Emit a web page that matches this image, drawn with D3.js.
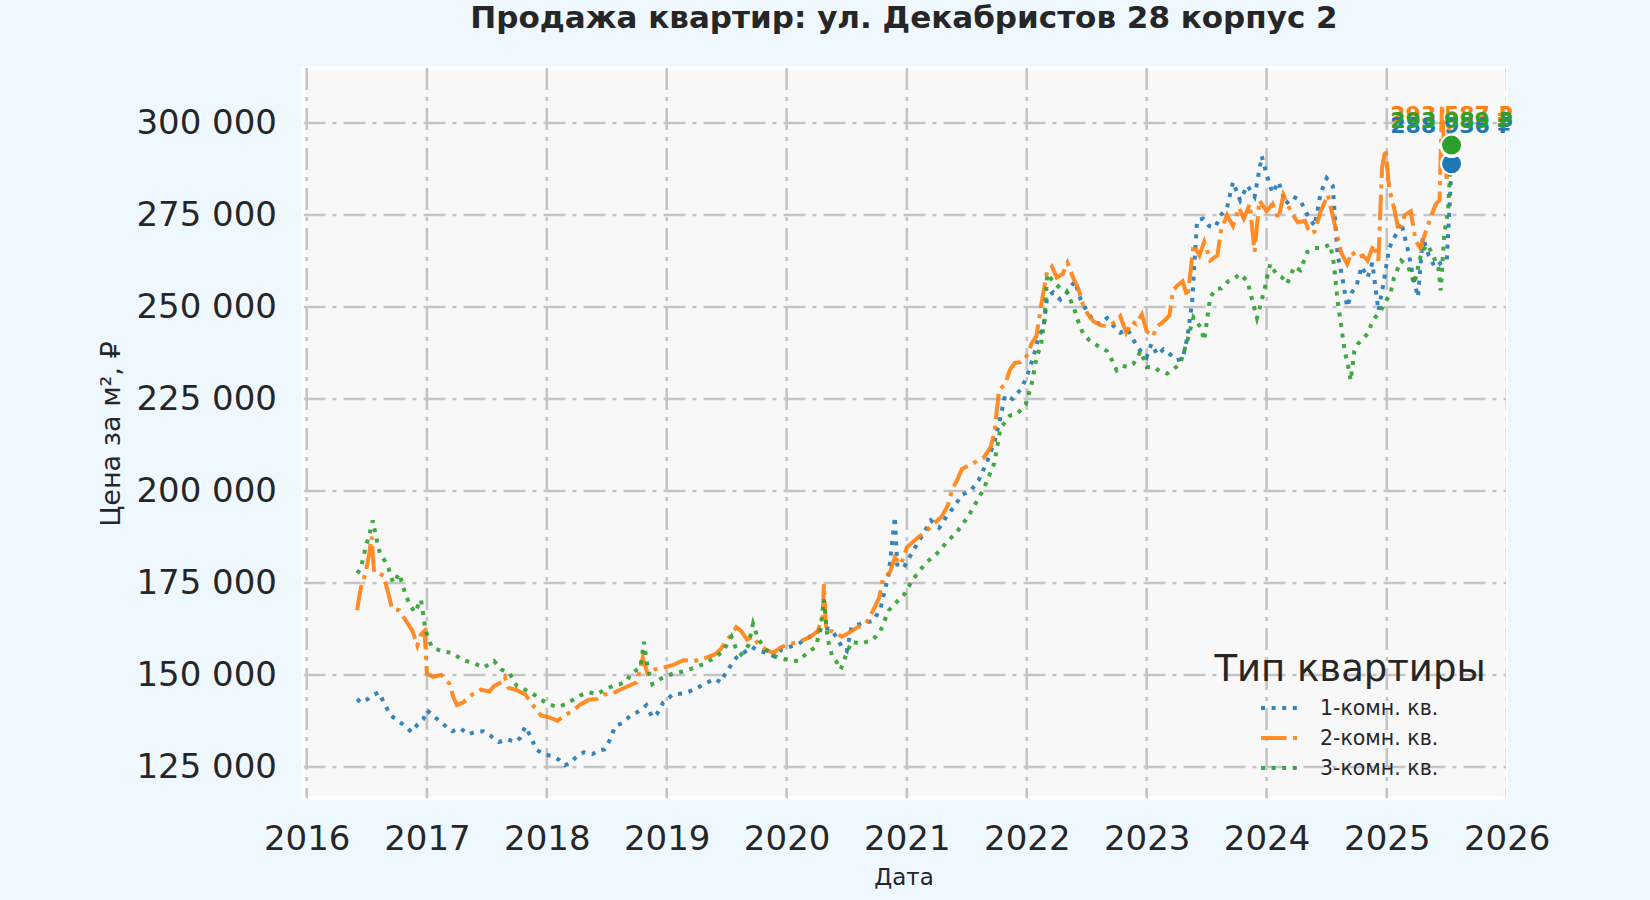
<!DOCTYPE html>
<html>
<head>
<meta charset="utf-8">
<script src="https://cdn.jsdelivr.net/npm/d3@7"></script>
<style>
  html, body { margin: 0; padding: 0; background: #f0f8ff; }
  svg { display: block; font-family: "DejaVu Sans", sans-serif; }
</style>
</head>
<body>
<svg id="chart" width="1650" height="900"></svg>
<script>
// series names / colours
var seriesNames = ["1-комн. кв.", "2-комн. кв.", "3-комн. кв."];
var seriesColors = ["#1f77b4", "#ff7f0e", "#2ca02c"];

// time in decimal years, values in thousand rubles per m2
var t1 = [2016.42,2016.45,2016.5,2016.55,2016.6,2016.65,2016.7,2016.76,2016.82,2016.87,2016.92,2016.97,2017.0,2017.05,2017.1,2017.16,2017.21,2017.28,2017.34,2017.4,2017.47,2017.53,2017.6,2017.67,2017.74,2017.78,2017.82,2017.87,2017.91,2017.97,2018.04,2018.1,2018.15,2018.2,2018.25,2018.31,2018.38,2018.43,2018.48,2018.52,2018.57,2018.63,2018.7,2018.76,2018.83,2018.88,2018.92,2018.97,2019.05,2019.14,2019.23,2019.31,2019.4,2019.45,2019.5,2019.58,2019.64,2019.71,2019.77,2019.84,2019.9,2019.96,2020.02,2020.1,2020.19,2020.25,2020.3,2020.37,2020.42,2020.46,2020.5,2020.54,2020.62,2020.72,2020.78,2020.85,2020.9,2020.92,2020.97,2021.07,2021.13,2021.2,2021.27,2021.33,2021.4,2021.46,2021.53,2021.6,2021.67,2021.73,2021.78,2021.82,2021.88,2021.95,2022.0,2022.06,2022.1,2022.14,2022.17,2022.22,2022.28,2022.34,2022.4,2022.45,2022.5,2022.56,2022.61,2022.67,2022.72,2022.78,2022.84,2022.89,2022.95,2023.0,2023.04,2023.09,2023.14,2023.2,2023.25,2023.3,2023.34,2023.38,2023.42,2023.47,2023.52,2023.57,2023.62,2023.67,2023.72,2023.78,2023.84,2023.9,2023.96,2024.0,2024.05,2024.1,2024.16,2024.22,2024.28,2024.34,2024.4,2024.45,2024.5,2024.55,2024.59,2024.63,2024.67,2024.71,2024.75,2024.79,2024.84,2024.88,2024.93,2024.97,2025.02,2025.08,2025.12,2025.18,2025.22,2025.26,2025.3,2025.35,2025.4,2025.45,2025.5,2025.52,2025.54];
var v1 = [143.5,142.5,143.3,144.5,145.3,142,139,137.5,136.1,134.5,136.5,138,140.4,139,137.6,136,134.7,135.5,133.9,134.5,134.7,133.5,131.8,132.5,131.8,133,136,133,129.8,128.5,128,127,125.5,126.1,128,129,128.5,129.5,129.8,132,136,137,139,140,141.8,138.5,139.5,142.5,144.7,145,146,147.5,149,148,151,154.7,156,157.6,156.5,156,155,157,157.6,158.5,160.4,161.5,163,162.4,160,157.6,156.5,163,164,164.7,168,177.6,193,180,179,184.7,188,192,190,193,196,199,200,203,208,213.3,220,226,225,227.6,231,237,242,244.5,252.7,254,252,254,257,252,249,246,245.4,247,245,243,244,241,238,236.4,240,237,238.5,237,235.5,236,241.8,251.8,273.5,274,272,271.6,275,277,284,279,283,280,291,286,281,284,278,280,279,275,272,281,285,283,264.4,258,250,254,256,261,258,262,249,256,266,270,273,265,258,252.7,269,264,260.8,262,262.6,275,288.936];

var t2 = [2016.42,2016.44,2016.46,2016.49,2016.52,2016.54,2016.56,2016.6,2016.64,2016.68,2016.71,2016.77,2016.82,2016.88,2016.92,2016.95,2016.98,2017.0,2017.05,2017.12,2017.19,2017.22,2017.25,2017.3,2017.38,2017.45,2017.52,2017.56,2017.62,2017.65,2017.68,2017.74,2017.82,2017.88,2017.95,2018.02,2018.09,2018.15,2018.22,2018.28,2018.35,2018.42,2018.48,2018.55,2018.61,2018.68,2018.75,2018.8,2018.84,2018.9,2018.97,2019.05,2019.14,2019.23,2019.31,2019.4,2019.45,2019.49,2019.54,2019.58,2019.62,2019.67,2019.72,2019.75,2019.82,2019.89,2019.95,2020.02,2020.1,2020.2,2020.26,2020.3,2020.31,2020.33,2020.38,2020.46,2020.52,2020.59,2020.66,2020.72,2020.77,2020.8,2020.86,2020.9,2020.95,2021.0,2021.08,2021.16,2021.22,2021.29,2021.34,2021.38,2021.42,2021.46,2021.52,2021.58,2021.64,2021.7,2021.73,2021.77,2021.82,2021.86,2021.9,2021.95,2021.99,2022.04,2022.08,2022.12,2022.15,2022.17,2022.21,2022.25,2022.3,2022.34,2022.39,2022.43,2022.47,2022.51,2022.56,2022.62,2022.68,2022.74,2022.78,2022.83,2022.88,2022.91,2022.96,2023.0,2023.05,2023.09,2023.14,2023.19,2023.22,2023.26,2023.3,2023.34,2023.37,2023.39,2023.44,2023.48,2023.53,2023.59,2023.62,2023.67,2023.72,2023.77,2023.81,2023.86,2023.9,2023.94,2024.0,2024.05,2024.1,2024.14,2024.2,2024.26,2024.32,2024.36,2024.4,2024.45,2024.51,2024.56,2024.59,2024.62,2024.67,2024.71,2024.75,2024.8,2024.84,2024.89,2024.93,2024.96,2024.99,2025.02,2025.06,2025.1,2025.15,2025.2,2025.24,2025.28,2025.32,2025.37,2025.41,2025.44,2025.46,2025.48,2025.5,2025.52,2025.54];
var v2 = [167.6,172,175,177.6,183,187.6,178,177.6,177,172,168,167.6,165,162,158,161,162,150.4,149.5,150,147.5,144,141.8,142.5,144.7,146,145.5,147,148,149.5,146.5,146,144.7,142,139,138.5,137.6,139,140.4,142,143.3,143.5,144.7,145,146,147,148,154.7,150.4,151.5,152,152.7,154,153.8,154.5,155.6,157,159,161,163,162,159.6,160.5,159,157,156,157.5,158.4,159,160.4,162,166,174.7,162,161.9,160.4,161.5,163,164,167.6,171,176,178,182,180,184.7,187,189,191,193,196,200.5,203,206,207,208,209,212,216,227.6,229,233,234.8,235,236,240,242,250.5,256,259.7,261,258,259,262,257.7,255,250.5,248,246,245,244.8,246,247.5,243,246,245.4,248,243.4,242,244.8,246,247.7,254.5,256,257,252.7,260.8,267,264,267.7,262.6,264,270.7,275,272,277,274,278,265,279,276,278,274,280.5,276,273,273.4,270,270.5,276,280.5,273.4,269,264.8,261.7,265,263.4,264,262.6,267,262.6,287.7,293,282,277,270.5,275,276,268,266,270,274.8,278,279,304.9,292,284.8,299,293.587];

var t3 = [2016.42,2016.45,2016.49,2016.52,2016.55,2016.58,2016.61,2016.65,2016.68,2016.72,2016.77,2016.82,2016.86,2016.9,2016.95,2016.99,2017.04,2017.12,2017.21,2017.3,2017.39,2017.47,2017.56,2017.62,2017.69,2017.75,2017.82,2017.88,2017.95,2018.02,2018.09,2018.15,2018.22,2018.28,2018.35,2018.42,2018.48,2018.55,2018.61,2018.67,2018.7,2018.78,2018.81,2018.84,2018.88,2018.95,2019.05,2019.14,2019.23,2019.31,2019.4,2019.47,2019.54,2019.58,2019.62,2019.68,2019.72,2019.76,2019.82,2019.88,2019.93,2020.02,2020.1,2020.17,2020.24,2020.28,2020.31,2020.34,2020.38,2020.42,2020.45,2020.5,2020.54,2020.62,2020.72,2020.78,2020.85,2020.92,2020.98,2021.05,2021.16,2021.25,2021.33,2021.42,2021.51,2021.58,2021.64,2021.73,2021.78,2021.86,2021.92,2021.99,2022.04,2022.08,2022.12,2022.15,2022.17,2022.22,2022.28,2022.33,2022.39,2022.43,2022.47,2022.52,2022.56,2022.62,2022.67,2022.72,2022.75,2022.8,2022.84,2022.89,2022.95,2023.0,2023.06,2023.11,2023.17,2023.22,2023.28,2023.34,2023.39,2023.45,2023.48,2023.53,2023.58,2023.62,2023.68,2023.74,2023.78,2023.84,2023.88,2023.92,2023.98,2024.03,2024.08,2024.13,2024.17,2024.23,2024.28,2024.34,2024.4,2024.46,2024.53,2024.56,2024.59,2024.62,2024.65,2024.68,2024.7,2024.73,2024.76,2024.79,2024.84,2024.88,2024.9,2024.95,2025.0,2025.03,2025.06,2025.12,2025.18,2025.23,2025.29,2025.34,2025.37,2025.43,2025.45,2025.48,2025.51,2025.54];
var v3 = [177.6,179,184.7,188,192,187,183,181,179,175,177.6,172,169,167,170.5,162,157.6,156.5,156,154,153.3,152,153.8,151.5,150.4,147,146,145,143.3,142,141.3,142,143.3,144.5,145.3,144.8,146,147,147.5,148.5,150.4,152,159,152,147.5,149,150.4,151,152,153,154.7,156.5,160.4,157,155.6,158,163.9,160,157,155.5,154.7,154,153.8,156,157.6,162,170.5,160,155,153.3,151.5,156,159,158.5,159.6,162,167.6,170,172,176,180.5,183,186,189,193,197,200.5,207.6,217,220.5,221,223.4,229,236,240,247,259,257,255,254.5,250,246,242.7,241,240,239,238,235,232.8,234,233.7,234.6,238,233.7,233.7,232.5,231.9,233,234.6,240.9,247.2,244.5,240.9,252.7,255,255,257,258,259,257,252,247,254.5,261.7,259,258,256.3,261,260,265,266,266,267,261.7,251.8,245,238,233.7,230,238,240,241,242.7,246,247,249,252,253.6,258,262.6,260.8,256.3,265,267,265,260.8,254.5,270,276,293.989];

var yTicks = [125000, 150000, 175000, 200000, 225000, 250000, 275000, 300000];
var xTickYears = [2016, 2017, 2018, 2019, 2020, 2021, 2022, 2023, 2024, 2025, 2026];

var titleText = "Продажа квартир: ул. Декабристов 28 корпус 2";
var xLabel = "Дата";
var yLabel = "Цена за м², ₽";
var legendTitle = "Тип квартиры";

function yearToDate(y) {
  var yr = Math.floor(y);
  var a = new Date(yr, 0, 1), b = new Date(yr + 1, 0, 1);
  return new Date(+a + (y - yr) * (b - a));
}

var series = [
  {name: seriesNames[0], color: seriesColors[0], dash: "4,6.6", t: t1, v: v1},
  {name: seriesNames[1], color: seriesColors[1], dash: "25.6,6.4,4,6.4", t: t2, v: v2},
  {name: seriesNames[2], color: seriesColors[2], dash: "4,6.6", t: t3, v: v3}
];
series.forEach(function(s) {
  s.points = s.t.map(function(t, i) { return {date: yearToDate(t), value: s.v[i] * 1000}; });
});

var svg = d3.select("#chart");
var box = {left: 303.5, right: 1506, top: 68, bottom: 798};

var x = d3.scaleTime()
  .domain([new Date(2016, 0, 1), new Date(2026, 0, 1)])
  .range([306.7, 1506.7]);
var y = d3.scaleLinear()
  .domain([125000, 300000])
  .range([767, 123]);

var ru = d3.formatLocale({decimal: ",", thousands: " ", grouping: [3], currency: ["", " ₽"]});
var fmt = ru.format(",.0f");

svg.append("defs").append("clipPath").attr("id", "clip")
  .append("rect")
  .attr("x", box.left).attr("y", box.top)
  .attr("width", box.right - box.left).attr("height", box.bottom - box.top);

// plot background
svg.append("rect")
  .attr("x", box.left).attr("y", box.top)
  .attr("width", box.right - box.left).attr("height", box.bottom - box.top)
  .attr("fill", "#f8f8f8")
  .attr("stroke", "#ffffff")
  .attr("stroke-width", 4);

// grid
var grid = svg.append("g").attr("clip-path", "url(#clip)");
grid.selectAll("line.gx")
  .data(xTickYears)
  .enter().append("line")
  .attr("class", "gx")
  .attr("x1", function(d) { return x(new Date(d, 0, 1)); })
  .attr("x2", function(d) { return x(new Date(d, 0, 1)); })
  .attr("y1", box.top).attr("y2", box.bottom);
grid.selectAll("line.gy")
  .data(yTicks)
  .enter().append("line")
  .attr("class", "gy")
  .attr("x1", box.left).attr("x2", box.right)
  .attr("y1", function(d) { return y(d); })
  .attr("y2", function(d) { return y(d); });
grid.selectAll("line")
  .attr("stroke", "#c4c4c4")
  .attr("stroke-width", 2.6)
  .attr("stroke-dasharray", "22,7,4,7");

// axes (labels only)
var xAxis = d3.axisBottom(x)
  .tickValues(xTickYears.map(function(d) { return new Date(d, 0, 1); }))
  .tickFormat(d3.timeFormat("%Y"))
  .tickSize(0).tickPadding(0);
var gx = svg.append("g").attr("transform", "translate(0," + 826 + ")").call(xAxis);
gx.select(".domain").remove();
gx.selectAll("text").attr("font-size", 34).attr("fill", "#262626")
  .attr("font-family", "DejaVu Sans").attr("dy", "0.71em");

var yAxis = d3.axisLeft(y).tickValues(yTicks).tickFormat(fmt).tickSize(0).tickPadding(0);
var gy = svg.append("g").attr("transform", "translate(" + 277 + ",0)").call(yAxis);
gy.select(".domain").remove();
gy.selectAll("text").attr("font-size", 34).attr("fill", "#262626")
  .attr("font-family", "DejaVu Sans");

// lines
var line = d3.line()
  .x(function(d) { return x(d.date); })
  .y(function(d) { return y(d.value); });

var plot = svg.append("g").attr("clip-path", "url(#clip)");
plot.selectAll("path.series")
  .data(series)
  .enter().append("path")
  .attr("class", "series")
  .attr("d", function(s) { return line(s.points); })
  .attr("fill", "none")
  .attr("stroke", function(s) { return s.color; })
  .attr("stroke-opacity", 0.9)
  .attr("stroke-width", 4)
  .attr("stroke-dasharray", function(s) { return s.dash; });

// last-value markers
svg.selectAll("circle.last")
  .data(series)
  .enter().append("circle")
  .attr("class", "last")
  .attr("cx", function(s) { return x(s.points[s.points.length - 1].date); })
  .attr("cy", function(s) { return y(s.points[s.points.length - 1].value); })
  .attr("r", 10.5)
  .attr("fill", function(s) { return s.color; })
  .attr("stroke", "#ffffff")
  .attr("stroke-width", 2);

// last-value labels: orange first, then blue, then green on top
var labelShift = [10, -1, 5];
[1, 0, 2].forEach(function(i) {
  var s = series[i];
  var last = s.points[s.points.length - 1];
  svg.append("text")
    .attr("x", x(last.date))
    .attr("y", y(300000) + labelShift[i])
    .attr("text-anchor", "middle")
    .attr("font-size", 22)
    .attr("font-weight", "bold")
    .attr("fill", s.color)
    .text(fmt(last.value) + " ₽");
});

// title and axis labels
svg.append("text")
  .attr("x", 904).attr("y", 28)
  .attr("text-anchor", "middle")
  .attr("font-size", 31).attr("font-weight", "bold").attr("fill", "#262626")
  .text(titleText);

svg.append("text")
  .attr("x", 904).attr("y", 885)
  .attr("text-anchor", "middle")
  .attr("font-size", 23).attr("fill", "#262626")
  .text(xLabel);

svg.append("text")
  .attr("transform", "translate(120,434) rotate(-90)")
  .attr("text-anchor", "middle")
  .attr("font-size", 27).attr("fill", "#262626")
  .text(yLabel);

// legend
var legend = svg.append("g");
legend.append("text")
  .attr("x", 1350).attr("y", 681)
  .attr("text-anchor", "middle")
  .attr("font-size", 37).attr("fill", "#262626")
  .text(legendTitle);
var items = legend.selectAll("g.item")
  .data(series)
  .enter().append("g")
  .attr("class", "item")
  .attr("transform", function(s, i) { return "translate(1261," + (708 + i * 30) + ")"; });
items.append("line")
  .attr("x1", 0).attr("x2", 41).attr("y1", 0).attr("y2", 0)
  .attr("stroke", function(s) { return s.color; })
  .attr("stroke-opacity", 0.9)
  .attr("stroke-width", 4)
  .attr("stroke-dasharray", function(s) { return s.dash; });
items.append("text")
  .attr("x", 59).attr("y", 7)
  .attr("font-size", 20.5).attr("fill", "#262626")
  .text(function(s) { return s.name; });
</script>
</body>
</html>
